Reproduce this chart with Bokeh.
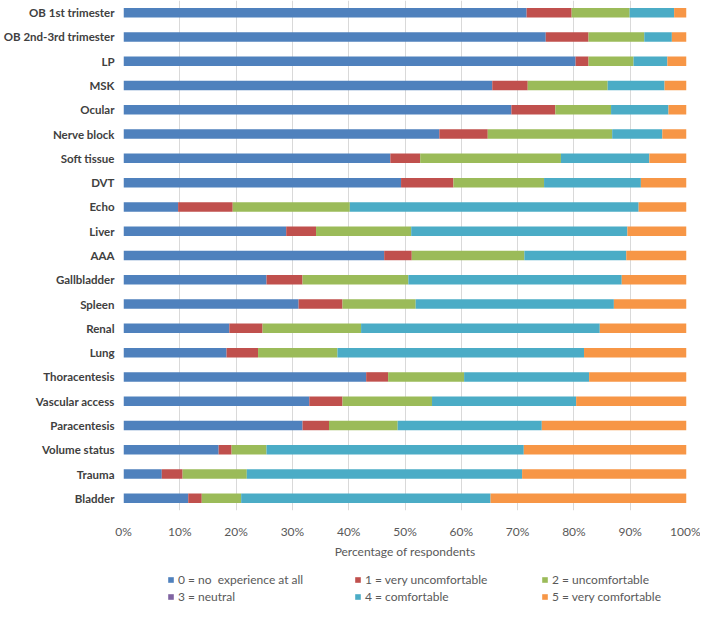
from bokeh.plotting import figure
from bokeh.layouts import column
from bokeh.models import ColumnDataSource, FactorRange, Legend, LegendItem, PrintfTickFormatter, FixedTicker, Range1d, Grid
from bokeh.embed import file_html
from bokeh.resources import INLINE

categories = ["OB 1st trimester", "OB 2nd-3rd trimester", "LP", "MSK", "Ocular", "Nerve block",
              "Soft tissue", "DVT", "Echo", "Liver", "AAA", "Gallbladder", "Spleen", "Renal",
              "Lung", "Thoracentesis", "Vascular access", "Paracentesis", "Volume status",
              "Trauma", "Bladder"]

level0 = [71.6, 75.0, 80.3, 65.5, 68.9, 56.1, 47.4, 49.3, 9.7, 28.9, 46.3, 25.4, 31.1, 18.8,
          18.3, 43.1, 33.0, 31.8, 16.9, 6.8, 11.5]
level1 = [8.0, 7.6, 2.3, 6.3, 7.8, 8.6, 5.3, 9.3, 9.7, 5.3, 4.9, 6.4, 7.8, 5.9,
          5.6, 3.9, 5.9, 4.7, 2.3, 3.7, 2.4]
level2 = [10.3, 9.9, 8.0, 14.2, 9.9, 22.1, 25.0, 16.1, 20.8, 16.9, 20.0, 18.8, 13.0, 17.5,
          14.1, 13.5, 15.9, 12.2, 6.2, 11.4, 7.0]
level3 = [0.0] * 21
level4 = [7.9, 4.9, 6.0, 10.1, 10.2, 8.9, 15.7, 17.2, 51.3, 38.4, 18.1, 37.9, 35.2, 42.4,
          43.8, 22.2, 25.6, 25.6, 45.7, 48.9, 44.3]
level5 = [2.2, 2.6, 3.4, 3.9, 3.2, 4.3, 6.6, 8.1, 8.5, 10.5, 10.7, 11.5, 12.9, 15.4,
          18.2, 17.3, 19.6, 25.7, 28.9, 29.2, 34.8]

legend_labels = ["0 = no  experience at all", "1 = very uncomfortable", "2 = uncomfortable",
                 "3 = neutral", "4 = comfortable", "5 = very comfortable"]
colors = ["#4F81BD", "#C0504D", "#9BBB59", "#8064A2", "#4BACC6", "#F79646"]
x_ticks = [0, 10, 20, 30, 40, 50, 60, 70, 80, 90, 100]

keys = ["l0", "l1", "l2", "l3", "l4", "l5"]
source = ColumnDataSource(dict(cat=categories, l0=level0, l1=level1, l2=level2,
                               l3=level3, l4=level4, l5=level5))

FONT = "Lato"
GRAY = "#595959"

p = figure(width=700, height=561, output_backend="svg", toolbar_location=None,
           y_range=FactorRange(factors=list(reversed(categories)), range_padding=0),
           x_range=Range1d(0, 100),
           min_border_left=116, min_border_right=14, min_border_top=0, min_border_bottom=0)
p.outline_line_color = None

renderers = p.hbar_stack(keys, y="cat", height=0.39, color=colors, line_color=None,
                         source=source)

p.xaxis.ticker = FixedTicker(ticks=x_ticks)
p.xaxis.formatter = PrintfTickFormatter(format="%d%%")
p.xaxis.axis_line_color = None
p.xaxis.major_tick_line_color = None
p.xaxis.minor_tick_line_color = None
p.xaxis.major_tick_out = 0
p.xaxis.major_label_standoff = 13
p.xaxis.major_label_text_font = FONT
p.xaxis.major_label_text_font_size = "12px"
p.xaxis.major_label_text_color = GRAY
p.xaxis.axis_label = "Percentage of respondents"
p.xaxis.axis_label_text_font = FONT
p.xaxis.axis_label_text_font_size = "12px"
p.xaxis.axis_label_text_font_style = "normal"
p.xaxis.axis_label_text_color = GRAY
p.xaxis.axis_label_standoff = 2

p.yaxis.axis_line_color = None
p.yaxis.major_tick_line_color = None
p.yaxis.minor_tick_line_color = None
p.yaxis.major_tick_out = 0
p.yaxis.major_label_standoff = 9
p.yaxis.major_label_text_font = FONT
p.yaxis.major_label_text_font_size = "11.5px"
p.yaxis.major_label_text_font_style = "bold"
p.yaxis.major_label_text_color = "#404040"

p.xgrid.grid_line_color = "#D9D9D9"
p.ygrid.grid_line_color = None

# Legend strip under the chart; swatch renderers are zero-width bars
lg = figure(width=700, height=43, output_backend="svg", toolbar_location=None,
            x_range=Range1d(0, 1), y_range=Range1d(0, 1),
            x_axis_location=None, y_axis_location=None,
            min_border_left=0, min_border_right=0, min_border_top=0, min_border_bottom=0)
lg.outline_line_color = None
for obj in list(lg.center) + list(lg.renderers):
    if isinstance(obj, Grid):
        obj.visible = False
        obj.grid_line_color = None

swatches = []
for col in colors:
    swatches.append(lg.hbar(y=[0.5], left=[0], right=[0], height=0.5, color=col, line_color=None))

order = [0, 3, 1, 4, 2, 5]  # legend fills columns first; this gives row-major reading
items = [LegendItem(label=legend_labels[i], renderers=[swatches[i]]) for i in order]

legend = Legend(items=items, ncols=3, location=(44, 0),
                glyph_width=7, glyph_height=7, label_height=14, label_width=174,
                label_standoff=4, spacing=2, padding=0, margin=0,
                border_line_color=None, background_fill_alpha=0,
                label_text_font=FONT, label_text_font_size="12px", label_text_color=GRAY)
lg.add_layout(legend, "center")

layout = column(p, lg, spacing=0)
open("out.html", "w").write(file_html(layout, INLINE))
